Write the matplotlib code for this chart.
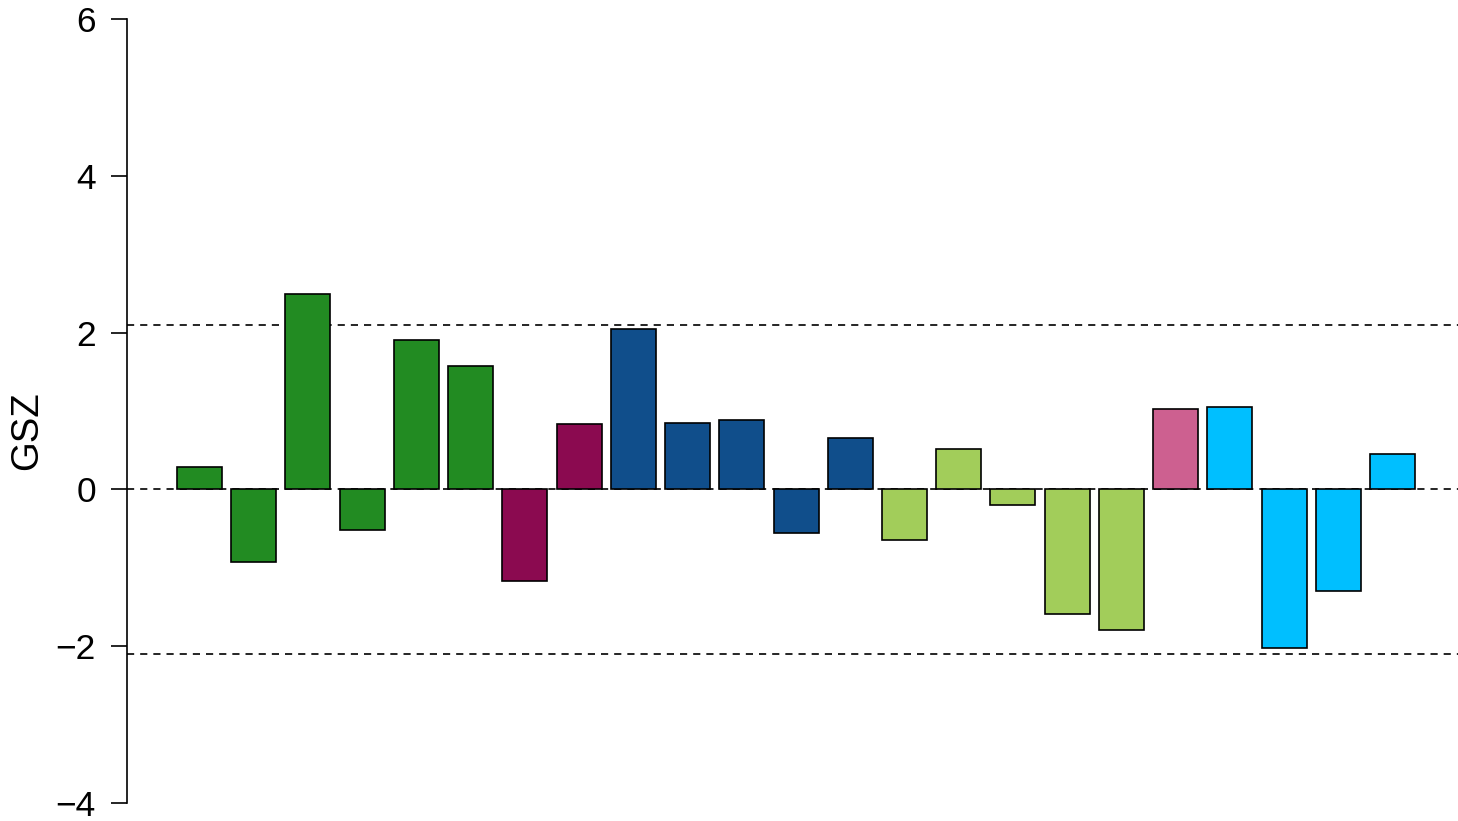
import matplotlib
matplotlib.use("Agg")
import matplotlib.pyplot as plt
import numpy as np

plt.rcParams['font.family'] = ['Liberation Sans', 'DejaVu Sans']

values = [0.29, -0.93, 2.49, -0.52, 1.90, 1.57, -1.17, 0.84, 2.05, 0.85, 0.88,
          -0.56, 0.66, -0.65, 0.51, -0.20, -1.59, -1.79, 1.03, 1.05, -2.02, -1.30, 0.45]
groups = ['g1'] * 6 + ['g2'] * 2 + ['g3'] * 5 + ['g4'] * 5 + ['g5'] * 1 + ['g6'] * 4
group_colors = {'g1': '#228B22', 'g2': '#8B0A50', 'g3': '#104E8B',
                'g4': '#A2CD5A', 'g5': '#CD6090', 'g6': '#00BFFF'}
thresholds = [2.1, 0.0, -2.1]
yticks = [-4, -2, 0, 2, 4, 6]

W, H = 1458, 821
fig = plt.figure(figsize=(W / 100, H / 100), dpi=100)
ax = fig.add_axes([127 / W, 1 - 803 / H, (W - 127) / W, (803 - 19) / H])

x = np.arange(len(values))
pitch = 54.23
x0 = 199.5
ax.set_xlim((127 - x0) / pitch, (W - x0) / pitch)
ax.set_ylim(-4, 6)

for t in thresholds:
    ax.axhline(t, color='black', lw=1.2, ls=(0, (4.3, 3.6)), zorder=1)

ax.bar(x, values, width=0.83, color=[group_colors[g] for g in groups],
       edgecolor='black', linewidth=1.2, zorder=2)

for s in ['top', 'right', 'bottom']:
    ax.spines[s].set_visible(False)
ax.spines['left'].set_linewidth(1.2)
ax.spines['left'].set_bounds(-4, 6)
ax.set_xticks([])
ax.set_yticks(yticks)
ax.set_yticklabels([str(v).replace('-', '\u2212') for v in yticks])
ax.tick_params(axis='y', length=11.5, width=1.2, pad=11, labelsize=25.5)
fig.text(27 / W, 1 - 431 / H, 'GSZ', rotation=90, fontsize=27.5,
         ha='center', va='center')

fig.savefig('out.png', dpi=100)
